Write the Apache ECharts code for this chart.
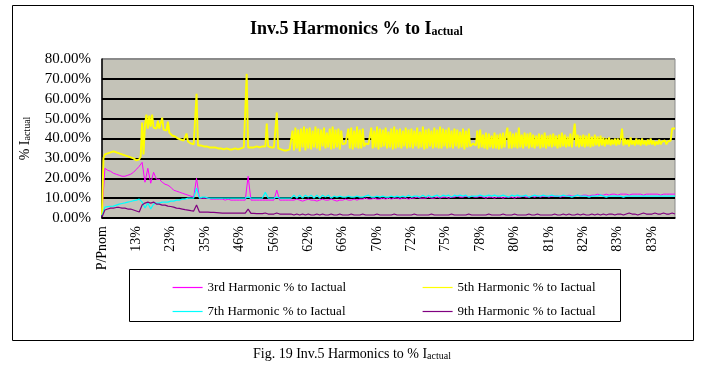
<!DOCTYPE html>
<html><head><meta charset="utf-8">
<script src="https://cdn.jsdelivr.net/npm/echarts@6/dist/echarts.min.js"></script>
<style>html,body{margin:0;padding:0;background:#fff}#c{width:728px;height:366px}</style>
</head><body><div id="c"></div><script>
const tickLabels = ["P/Pnom","13%","23%","35%","46%","56%","62%","66%","70%","72%","75%","78%","80%","81%","82%","83%","83%"];
const seriesNames = ['3rd Harmonic % to Iactual','5th Harmonic % to Iactual','7th Harmonic % to Iactual','9th Harmonic % to Iactual'];

// 5th harmonic is sampled at twice the resolution of the others (dense band)
const h5 = [
1.5,30,32,32,32.5,32.5,33,33,33.5,33.5,33,33,32.5,32.5,32,32,31.5,31.5,31,31,30.5,30.5,30,30,
29,29,29.5,31,48,32,47,52,45,51.5,46,52,45.5,46,45,49,45,44.5,50.5,44.5,44,44,48.5,43,
42,41.5,41.5,41,40,40,39.5,39.5,39.5,39,39,42.5,38.5,38,37.5,37.5,37,37,62.5,36.5,36.5,36.5,36.5,36,
36,36,36,35.5,35.5,35.5,35.5,35.5,35.5,35,35,35,35,34.5,34.5,35,35,34.5,34.5,34.5,34.5,35,34.5,34.5,
35,35,35,35.5,35.5,72.5,35.5,35.5,35.5,36,35.5,35.5,36,35.5,35.5,36,36,35.5,36,47.5,36,35.5,35.5,35.5,
35.5,35.5,53,35,34.5,34.5,34,34,34.5,34,34,34.5,34.5,44,34,45.5,35,44.5,33.5,45,35.5,46,34,45,
35,45.5,34.5,44,35.5,46,35,45,34,44.5,36,45.5,35,43,35.5,45,34.5,46,35,44.5,35.5,45,34.5,44,
37,38,37.5,37,45,35,45.5,34.5,44,35.5,46,35,44.5,35,45,36,37.5,38,37,37.5,45.5,35,44,35.5,
46,34.5,45,35.5,44.5,36,45.5,35,43.5,35.5,45,34.5,46,35,44.5,35.5,45,35,44,36,45.5,35,44.5,35.5,
45,35,44,36,45.5,35,43.5,35.5,46,34.5,44.5,35,45,36,44,35,45.5,35.5,44.5,35,46,35,45,36,
44.5,35,45.5,35.5,44,35,45,36,44.5,35,43.5,35.5,45,34.5,44,35.5,45,36,37,37.5,37,36.5,44,35,
44.5,35.5,42,35,43,34.5,42.5,35.5,41.5,35,43,35,42,34.5,42.5,35,43,35.5,42,45.5,35,43.5,35,42.5,
35.5,43,35,45.5,35.5,42,35,43,36,42.5,35,43,35.5,42,35,41.5,36,42.5,35,42,35.5,43,35,41.5,
36,42,35.5,42.5,36,41.5,35,42,35.5,43,36,42,35.5,41,36,42.5,35.5,42,47.5,36,42,35.5,41.5,36,
42,35.5,41.5,36,42.5,35.5,41,36,42,36.5,41,36,41.5,36.5,40.5,36,40,37,40.5,36.5,39.5,37,40,36.5,
40,37,39.5,45,36.5,40,37,39.5,36,40.5,37,39,36.5,40,37,39.5,36.5,40,37,39,36.5,39.5,37,40,
37,39,36.5,38.5,37,39.5,37,38.5,37.5,39,37,38.5,38,39,45,44,45
];
const h3 = [
2,25,24,23.5,22.5,22,21.5,21,21,21.5,22,23,
24.5,26,28,18,25,17.5,23,19.5,19.5,18,17,16.5,
15.5,14,13.5,13,12.5,12,11.5,11,10.5,20,10,10,
10,10,9.5,9.5,9.5,9.5,9.5,9,9.5,9,9,9,
9,9,9,21,9,9,9,9,9,9,9,9,
9,14,9,9,9,9,9,9,9.5,9,8.5,9,
9.5,9,9,8.5,9,9.5,9,9,9.5,9,8.5,9,
9,9.5,9,9,9.5,9,9.5,9.5,10,9.5,9.5,10,
9.5,9.5,10,9.5,10,9.5,10,10,9.5,10,10,9.5,
10,10,10.5,10,10,10,10.5,10,10,10.5,10,10.5,
10.5,10,10.5,10.5,11,10.5,10.5,11,10.5,11,10.5,10.5,
11,10.5,10,10.5,10.5,10,10.5,10.5,10,10.5,10.5,10.5,
10,10.5,10.5,11,10.5,10.5,11,10.5,11,10.5,11,11,
10.5,11,11,11,10.5,11,11,11.5,11,11,11.5,11,
11.5,11.5,11,11.5,11.5,12,11.5,11.5,12,11.5,12,12,
11.5,12,12,12,11.5,12,12,12,12,11.5,12,12,
12,12,12,11.5,12,12,12,12,12
];
const h7 = [
1,5.5,5.7,5.9,6,6.5,7,7.3,7.6,8,8.3,8.7,
9,9.5,8,5,7.5,4.5,7,7.5,7.5,8,8,8,
8.5,8.5,9,9,9.5,9.5,10,10,10,15,10,10.5,
10.5,10,10,10,10,10,10,10,10,10,10,10,
10,10,10,10.5,10,10,10,10,10,13,10,10,
10,10.5,10,10,10,10,10,11.5,10,11.5,10,11.5,
10.5,11.5,10,11.5,10,11.5,10.5,11.5,10,11,10.5,11,
10.5,10.5,11,10.5,10.5,11,10.5,10.5,11,11.5,10.5,10.5,
11,10.5,11,10.5,10.5,11,10.5,11,10.5,11,10.5,11.5,
10.5,11,11,10.5,11.5,10.5,11.5,10.5,11,11.5,10.5,11.5,
11,11.5,10.5,11.5,11,11.5,11,11.5,10.5,11,11,11,
11.5,11,11,11.5,11,11.5,11,11,11.5,11,10.5,11.5,
11,11.5,11,11,11.5,10.5,11,11.5,11,11,11.5,11,
11,11.5,11,11,11,11.5,11,11,10.5,11,11.5,11,
11,11,10.5,11,11,11,11.5,11,10.5,11,11,11,
11,11,10.5,11,11,11,11,11,11,11,11,11,
11,11,11,11,11,11,11,11,11
];
const h9 = [
0.5,4,4.5,5,5,5.3,5.3,5,5,4.5,4.5,4,
3.5,3,6.5,7.5,8,7.5,8,7,7,6.5,6.5,6,
5.8,5.5,5,4.8,4.5,4.2,4,3.7,3.5,6.5,3,3,
3,3,2.8,2.8,2.7,2.6,2.5,2.5,2.5,2.5,2.5,2.5,
2.5,2.5,2.5,4.5,2.3,2.3,2.2,2.2,2.2,2.5,2,2,
2,2.5,2,2,2,2,2,1.5,2,1.5,2,1.5,
2,1.5,1.5,2,1.5,2,1.5,1.5,2,1.5,1.5,2,
1.5,1.5,1.5,2,1.5,1.5,1.5,2,1.5,1.5,1.5,1.5,
2,1.5,1.5,1.5,1.5,1.5,2,1.5,1.5,1.5,1.5,1.5,
1.5,2,1.5,1.5,1.5,1.5,1.5,2,1.5,1.5,1.5,1.5,
1.5,1.5,2,1.5,1.5,1.5,1.5,1.5,2,1.5,1.5,1.5,
1.5,1.5,1.5,2,1.5,1.5,1.5,1.5,2,1.5,1.5,1.5,
2,1.5,1.5,1.5,1.5,2,1.5,1.5,2,1.5,1.5,1.5,
1.5,1.5,2,1.5,1.5,2,1.5,2,1.5,1.5,2,1.5,
2,1.5,1.5,2,1.5,2,1.5,2,1.5,2,2,1.5,
2,2,1.5,2,2.5,2,2,1.5,2,2.5,2,2,
2,2.5,2,2,2.5,2,2,2.5,2
];

const categories = h3.map((_, i) => 'p' + i);
const categories5 = h5.map((_, i) => 'q' + i);
const FONT = 'Liberation Serif';
const gridColors = ['#000','#000','#000','#000','#000','#000','#000','#000','#8a8a8a'];

const chart = echarts.init(document.getElementById('c'), null, {renderer: 'canvas'});
const mk = (name, data, color, w, xi) => ({
  name, type: 'line', data, symbol: 'none', showSymbol: false, xAxisIndex: xi,
  lineStyle: {color, width: w}, itemStyle: {color}
});
const legendBase = {orient: 'vertical', top: 276, itemWidth: 30, itemHeight: 14, itemGap: 11,
  itemStyle: {opacity: 0, borderWidth: 0}, lineStyle: {width: 1.2},
  textStyle: {fontFamily: FONT, fontSize: 13, color: '#000'}};
chart.setOption({
  animation: false,
  backgroundColor: '#fff',
  title: {
    text: 'Inv.5 Harmonics % to I{sub|actual}',
    left: 245, top: 15,
    textStyle: {
      fontFamily: FONT, fontSize: 18, fontWeight: 'bold', color: '#000',
      rich: {sub: {fontFamily: FONT, fontSize: 12, fontWeight: 'bold', color: '#000', verticalAlign: 'bottom'}}
    }
  },
  grid: {left: 102, right: 53, top: 59, bottom: 148, show: true,
    backgroundColor: '#c4c3b8', borderColor: '#8a8a8a', borderWidth: 1},
  xAxis: [{
    type: 'category', data: categories, boundaryGap: false,
    axisLine: {lineStyle: {color: '#000', width: 1.5}},
    axisTick: {show: false},
    splitLine: {show: false},
    axisLabel: {
      interval: 11, rotate: 90, fontFamily: FONT, fontSize: 14, color: '#000', margin: 8,
      formatter: (v, i) => (i % 12 === 0 ? tickLabels[i / 12] : '')
    }
  }, {
    type: 'category', data: categories5, boundaryGap: false, show: false, position: 'bottom'
  }],
  yAxis: {
    type: 'value', min: 0, max: 80, interval: 10,
    name: '% I{sub|actual}', nameLocation: 'middle', nameGap: 70, nameRotate: 90,
    nameTextStyle: {fontFamily: FONT, fontSize: 14, color: '#000',
      rich: {sub: {fontFamily: FONT, fontSize: 10, color: '#000', verticalAlign: 'bottom'}}},
    axisLine: {show: true, lineStyle: {color: '#000', width: 1.5}},
    axisTick: {show: false},
    axisLabel: {fontFamily: FONT, fontSize: 15, color: '#000', margin: 11,
      formatter: v => v.toFixed(2) + '%'},
    splitLine: {show: true, lineStyle: {color: gridColors, width: 2}}
  },
  legend: [
    Object.assign({}, legendBase, {left: 167, data: [seriesNames[0], seriesNames[2]]}),
    Object.assign({}, legendBase, {left: 417, data: [seriesNames[1], seriesNames[3]]})
  ],
  graphic: [
    {type: 'rect', shape: {x: 12.5, y: 5.5, width: 681, height: 335},
      style: {fill: 'none', stroke: '#000', lineWidth: 1}, silent: true, z: -1},
    {type: 'rect', shape: {x: 129.5, y: 269.5, width: 491, height: 52},
      style: {fill: 'none', stroke: '#000', lineWidth: 1}, silent: true},
    {type: 'text', x: 352, y: 354, silent: true,
      style: {text: 'Fig. 19 Inv.5 Harmonics to % I{sub|actual}', fontFamily: FONT, fontSize: 14,
        fill: '#000', align: 'center', verticalAlign: 'middle',
        rich: {sub: {fontFamily: FONT, fontSize: 10, fill: '#000', verticalAlign: 'bottom'}}}}
  ],
  series: [
    mk(seriesNames[0], h3, '#ff00ff', 1, 0),
    mk(seriesNames[1], h5, '#ffff00', 1.9, 1),
    mk(seriesNames[2], h7, '#00ffff', 1.2, 0),
    mk(seriesNames[3], h9, '#800080', 1.2, 0)
  ]
});
</script></body></html>
